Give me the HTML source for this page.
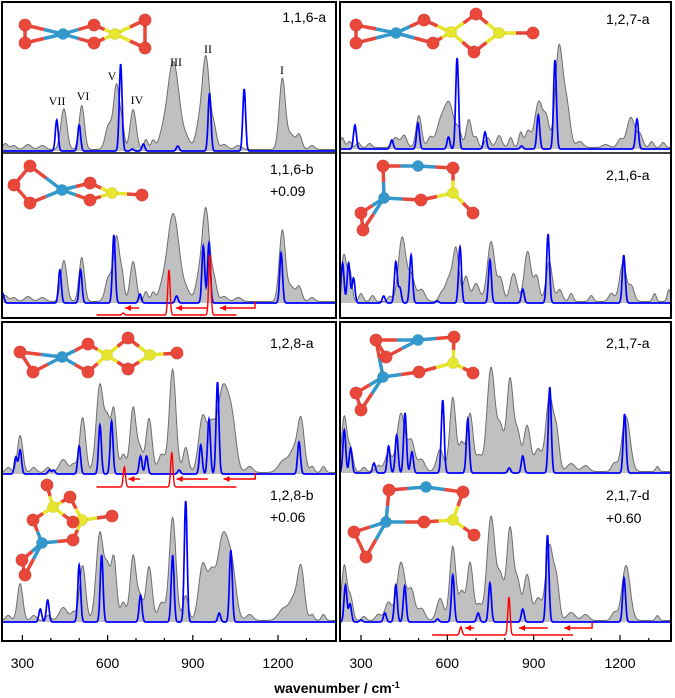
<!DOCTYPE html>
<html><head><meta charset="utf-8">
<style>
html,body{margin:0;padding:0;background:#fff;}
svg{display:block;font-family:"Liberation Sans",sans-serif;}
</style></head>
<body>
<svg id="fig" width="675" height="698" viewBox="0 0 675 698" xmlns="http://www.w3.org/2000/svg">
<defs>
<clipPath id="clipL"><rect x="3" y="3" width="332" height="637"/></clipPath>
<clipPath id="clipR"><rect x="341" y="3" width="329" height="637"/></clipPath>
</defs>
<g id="marks"></g>
<g id="mols"></g>
<rect x="2" y="2" width="334" height="316" fill="none" stroke="#000" stroke-width="2"/>
<rect x="2" y="322" width="334" height="319" fill="none" stroke="#000" stroke-width="2"/>
<rect x="340" y="2" width="331" height="316" fill="none" stroke="#000" stroke-width="2"/>
<rect x="340" y="322" width="331" height="319" fill="none" stroke="#000" stroke-width="2"/>
<line x1="2" y1="153" x2="336" y2="153" stroke="#000" stroke-width="1.5"/>
<line x1="340" y1="153" x2="671" y2="153" stroke="#000" stroke-width="1.5"/>
<g id="ticks"></g>
<g font-size="14" fill="#000">
<text x="326" y="22" text-anchor="end">1,1,6-a</text>
<text x="270" y="174">1,1,6-b</text>
<text x="270" y="196">+0.09</text>
<text x="606" y="24">1,2,7-a</text>
<text x="606" y="180">2,1,6-a</text>
<text x="270" y="348">1,2,8-a</text>
<text x="270" y="500">1,2,8-b</text>
<text x="270" y="522">+0.06</text>
<text x="606" y="348">2,1,7-a</text>
<text x="606" y="500">2,1,7-d</text>
<text x="606" y="523">+0.60</text>
</g>
<g font-family="Liberation Serif,serif" font-size="12" text-anchor="middle">
<text x="57" y="105">VII</text>
<text x="83" y="100">VI</text>
<text x="112" y="80">V</text>
<text x="137" y="104">IV</text>
<text x="176" y="66">III</text>
<text x="208" y="53">II</text>
<text x="282" y="74">I</text>
</g>
<text x="337" y="693" text-anchor="middle" font-size="14" font-weight="bold">wavenumber / cm<tspan dy="-5" font-size="9">-1</tspan></text>
</svg>
<script>
const tickMajor = [300, 600, 900, 1200];
const tickMinor = [300,400,500,600,700,800,900,1000,1100,1200,1300];
const expA = [[240,6,8],[270,4,8],[320,5,10],[370,4,10],[446,41,9],[509,44,8],[604,24,10],[632,64,9],[652,20,6],[690,40,9],[735,10,6],[760,9,6],[790,8,10],[831,88,18],[880,8,10],[920,20,10],[946,92,11],[975,20,8],[1010,5,10],[1060,4,10],[1215,70,9],[1245,15,12],[1275,14,8],[1320,4,8]];
const expC = [[235,10,6],[260,6,6],[290,5,6],[330,4,6],[420,10,10],[450,12,8],[501,32,8],[540,10,8],[575,22,12],[606,44,14],[640,15,8],[675,28,8],[700,10,6],[740,10,8],[780,12,8],[820,10,6],[855,15,6],[880,16,8],[918,46,12],[945,25,8],[988,100,11],[1015,40,10],[1060,6,10],[1150,3,10],[1200,8,8],[1238,30,12],[1270,12,8],[1310,6,6],[1350,5,6]];
const expD = [[241,47,8],[262,28,6],[300,8,6],[340,6,6],[400,5,6],[443,64,11],[475,25,10],[510,12,10],[580,8,8],[605,22,10],[630,52,9],[665,25,8],[700,18,10],[752,60,11],[785,22,8],[830,28,10],[879,50,10],[910,25,8],[954,40,9],[990,12,8],[1030,8,6],[1100,6,6],[1170,8,8],[1210,38,10],[1240,15,8],[1320,8,5],[1370,12,5]];
const expE = [[250,5,8],[292,37,8],[340,5,8],[390,5,8],[444,13,12],[480,8,8],[512,55,9],[573,88,11],[600,45,8],[622,62,8],[655,18,8],[690,65,9],[715,22,8],[746,54,9],[790,18,10],[829,103,10],[875,25,8],[935,56,12],[965,35,10],[1007,86,18],[1040,35,12],[1100,6,10],[1220,12,15],[1255,20,12],[1281,52,10],[1320,6,6],[1360,6,6]];
const expG = [[242,55,8],[264,22,7],[310,4,6],[360,6,8],[395,18,10],[439,58,12],[475,30,10],[510,12,10],[575,22,10],[619,74,9],[650,28,8],[679,58,9],[710,15,8],[752,104,12],[785,40,9],[818,93,10],[845,35,8],[877,46,10],[915,22,10],[955,75,11],[980,35,8],[1030,8,12],[1080,6,10],[1180,8,8],[1221,55,12],[1330,5,5]];
const blueA = [[421,31],[500,26],[646,87],[687,2],[726,7],[847,5],[959,58],[1081,62]];
const blueB = [[230,10],[432,33],[505,33],[622,68],[714,9],[843,7],[937,57],[957,60],[1211,50]];
const blueC = [[279,24],[407,9],[498,26],[604,12],[634,91],[731,17],[858,3],[916,34],[974,89],[1259,30]];
const blueD = [[236,40],[257,40],[274,25],[379,7],[421,41],[435,15],[474,48],[565,2],[644,56],[748,43],[862,14],[950,69],[1213,48]];
const blueE = [[277,17],[292,24],[395,4],[410,4],[500,28],[573,49],[614,53],[716,18],[737,18],[852,4],[928,29],[957,55],[987,92],[1274,32]];
const blueF = [[363,13],[389,22],[500,57],[579,67],[716,27],[829,67],[875,121],[993,9],[1034,72]];
const blueG = [[242,43],[264,25],[345,10],[396,27],[424,38],[453,60],[477,21],[584,73],[671,54],[815,5],[862,17],[956,86],[1216,59]];
const blueH = [[246,37],[262,18],[300,2],[383,9],[421,37],[452,36],[566,3],[619,47],[707,9],[748,39],[862,13],[948,87],[1214,44]];
const redB = [[655,2],[816,45],[960,60]];
const redBRange = [561,1054];
const arrowsB = [[711,661],[953,841],[1119,996]];
const redE = [[659,20],[826,34]];
const redERange = [561,1054];
const arrowsE = [[714,673],[953,843],[1120,1008]];
const redH = [[647,8],[814,38]];
const redHRange = [547,1037];
const arrowsH = [[693,662],[949,849],[1103,1006]];

const xL = w => 22.4 + (w - 300) * 0.284;
const xR = w => 361 + (w - 300) * 0.2878;
const yS = (base, h) => base - h;
const NS = 'http://www.w3.org/2000/svg';
const marks = document.getElementById('marks');
function mk(tag, attrs, parent) {
  const e = document.createElementNS(NS, tag);
  for (const k in attrs) e.setAttribute(k, attrs[k]);
  (parent || marks).appendChild(e);
  return e;
}
function sumG(list, w, defSig, k) {
  let s = 0;
  for (const p of list) { const sg = (p[2] || defSig) * (k || 1); s += p[1] * Math.exp(-0.5 * ((w - p[0]) / sg) ** 2); }
  return s;
}
function drawExp(g, sx, base, list, name) {
  let d = 'M' + sx(225).toFixed(1) + ',' + base;
  let line = '';
  for (let w = 225; w <= 1410; w += 2) {
    const y = yS(base, sumG(list, w, 8, 1.18) + 1.5);
    d += 'L' + sx(w).toFixed(1) + ',' + y.toFixed(1);
    line += (line ? 'L' : 'M') + sx(w).toFixed(1) + ',' + y.toFixed(1);
  }
  d += 'L' + sx(1410).toFixed(1) + ',' + base + 'Z';
  const f = mk('path', {d: d, fill: '#c0c0c0', stroke: 'none'}, g);
  
  
  const l = mk('path', {d: line, fill: 'none', stroke: '#6e6e6e', 'stroke-width': 1}, g);
  
  
}
function drawBlue(g, sx, base, list, name) {
  let d = '';
  for (let w = 225; w <= 1410; w += 1) {
    const y = yS(base, sumG(list, w, 5));
    d += (d ? 'L' : 'M') + sx(w).toFixed(1) + ',' + y.toFixed(1);
  }
  const p = mk('path', {d: d, fill: 'none', stroke: '#0000ff', 'stroke-width': 1.7}, g);
  
  
}
function drawRed(g, sx, base, list, range, arrows, arrowY, tickTop, name) {
  let d = '';
  for (let w = range[0]; w <= range[1]; w += 1) {
    const y = yS(base, sumG(list, w, 4));
    d += (d ? 'L' : 'M') + sx(w).toFixed(1) + ',' + y.toFixed(1);
  }
  const p = mk('path', {d: d, fill: 'none', stroke: '#ff0000', 'stroke-width': 1.4}, g);
  
  
  arrows.forEach((a, i) => {
    const x1 = sx(a[0]), x2 = sx(a[1]);
    let ad = 'M' + x1 + ',' + arrowY + 'L' + x2 + ',' + arrowY;
    if (i === arrows.length - 1) ad = 'M' + x1 + ',' + tickTop + 'L' + x1 + ',' + arrowY + 'L' + x2 + ',' + arrowY;
    const ln = mk('path', {d: ad, fill: 'none', stroke: '#ff0000', 'stroke-width': 1.4}, g);
    
    
    const hd = mk('path', {d: 'M' + x2 + ',' + arrowY + 'l6,-3l0,6z', fill: '#ff0000'}, g);
    
    
  });
}
const gL = mk('g', {'clip-path': 'url(#clipL)'});
const gR = mk('g', {'clip-path': 'url(#clipR)'});
drawExp(gL, xL, 151, expA, '1-1-6-a'); drawBlue(gL, xL, 151, blueA, '1-1-6-a');
drawExp(gL, xL, 303, expA, '1-1-6-b'); drawBlue(gL, xL, 303, blueB, '1-1-6-b');
drawRed(gL, xL, 315, redB, redBRange, arrowsB, 308, 302, '1-1-6-b');
drawExp(gR, xR, 149, expC, '1-2-7-a'); drawBlue(gR, xR, 149, blueC, '1-2-7-a');
drawExp(gR, xR, 303, expD, '2-1-6-a'); drawBlue(gR, xR, 303, blueD, '2-1-6-a');
drawExp(gL, xL, 474, expE, '1-2-8-a'); drawBlue(gL, xL, 474, blueE, '1-2-8-a');
drawRed(gL, xL, 487, redE, redERange, arrowsE, 479, 473, '1-2-8-a');
drawExp(gL, xL, 622, expE, '1-2-8-b'); drawBlue(gL, xL, 622, blueF, '1-2-8-b');
drawExp(gR, xR, 473, expG, '2-1-7-a'); drawBlue(gR, xR, 473, blueG, '2-1-7-a');
drawExp(gR, xR, 622, expG, '2-1-7-d'); drawBlue(gR, xR, 622, blueH, '2-1-7-d');
drawRed(gR, xR, 635, redH, redHRange, arrowsH, 628, 622, '2-1-7-d');

const tg = document.getElementById('ticks');
[[xL, 'left'], [xR, 'right']].forEach(([sx, side]) => {
  tickMinor.forEach(w => {
    const major = tickMajor.includes(w);
    const t = mk('line', {x1: sx(w), x2: sx(w), y1: 641, y2: major ? 635 : 638, stroke: '#000', 'stroke-width': 1.2}, tg);
    
    
  });
  tickMajor.forEach(w => {
    const t = mk('text', {x: sx(w), y: 668, 'text-anchor': 'middle', 'font-size': 14}, tg);
    t.textContent = w;
    
    
  });
});

const mg = document.getElementById('mols');
const COL = {r: '#e8473a', b: '#3399cc', y: '#e6e62e'};
function mol(name, atoms, bonds) {
  const g = mk('g', {}, mg);
  
  
  bonds.forEach(([i, j]) => {
    const a = atoms[i], b = atoms[j];
    const mx = (a[0] + b[0]) / 2, my = (a[1] + b[1]) / 2;
    mk('line', {x1: a[0], y1: a[1], x2: mx, y2: my, stroke: COL[a[2]], 'stroke-width': 3.5}, g);
    mk('line', {x1: mx, y1: my, x2: b[0], y2: b[1], stroke: COL[b[2]], 'stroke-width': 3.5}, g);
  });
  atoms.forEach(a => mk('circle', {cx: a[0], cy: a[1], r: a[2] === 'r' ? 6.3 : 5.6, fill: COL[a[2]], stroke: 'rgba(0,0,0,0.15)', 'stroke-width': 0.5}, g));
}
mol('molecule-1-1-6-a', [[25,25,'r'],[25,43,'r'],[63,34,'b'],[94,25,'r'],[94,43,'r'],[115,34,'y'],[145,20,'r'],[145,48,'r']],
  [[0,1],[0,2],[1,2],[2,3],[2,4],[3,5],[4,5],[5,6],[5,7],[6,7]]);
mol('molecule-1-1-6-b', [[30,166,'r'],[14,185,'r'],[30,203,'r'],[62,190,'b'],[90,183,'r'],[90,200,'r'],[112,193,'y'],[142,195,'r']],
  [[0,1],[1,2],[0,3],[2,3],[3,4],[3,5],[4,6],[5,6],[6,7]]);
mol('molecule-1-2-7-a', [[356,25,'r'],[356,43,'r'],[396,33,'b'],[424,20,'r'],[433,43,'r'],[451,32,'y'],[476,14,'r'],[474,52,'r'],[499,33,'y'],[533,33,'r']],
  [[0,1],[0,2],[1,2],[2,3],[2,4],[3,5],[4,5],[5,6],[5,7],[6,8],[7,8],[8,9]]);
mol('molecule-2-1-6-a', [[383,166,'r'],[418,166,'b'],[453,168,'r'],[453,193,'y'],[421,200,'r'],[384,198,'b'],[473,213,'r'],[361,213,'r'],[363,230,'r']],
  [[0,1],[1,2],[2,3],[3,4],[4,5],[5,0],[3,6],[5,7],[5,8],[7,8]]);
mol('molecule-1-2-8-a', [[20,352,'r'],[33,372,'r'],[62,357,'b'],[88,344,'r'],[88,372,'r'],[107,355,'y'],[128,338,'r'],[128,369,'r'],[150,355,'y'],[177,353,'r']],
  [[0,1],[0,2],[1,2],[2,3],[2,4],[3,5],[4,5],[5,6],[5,7],[6,8],[7,8],[8,9]]);
mol('molecule-1-2-8-b', [[47,485,'r'],[53,507,'y'],[70,497,'r'],[82,520,'y'],[33,520,'r'],[73,522,'r'],[112,516,'r'],[73,540,'r'],[42,543,'b'],[22,560,'r'],[25,575,'r']],
  [[0,1],[1,2],[2,3],[1,4],[1,5],[5,3],[3,6],[3,7],[4,8],[7,8],[8,9],[8,10],[9,10]]);
mol('molecule-2-1-7-a', [[376,340,'r'],[386,357,'r'],[418,340,'b'],[454,337,'r'],[453,363,'y'],[419,372,'r'],[383,377,'b'],[473,373,'r'],[356,393,'r'],[361,410,'r']],
  [[0,1],[0,2],[1,2],[2,3],[3,4],[4,5],[5,6],[4,7],[0,6],[6,8],[6,9],[8,9]]);
mol('molecule-2-1-7-d', [[389,490,'r'],[426,487,'b'],[463,492,'r'],[453,520,'y'],[424,522,'r'],[386,522,'b'],[474,535,'r'],[354,532,'r'],[366,557,'r']],
  [[0,1],[1,2],[2,3],[3,4],[4,5],[5,0],[3,6],[5,7],[5,8],[7,8]]);
</script>
</body></html>
